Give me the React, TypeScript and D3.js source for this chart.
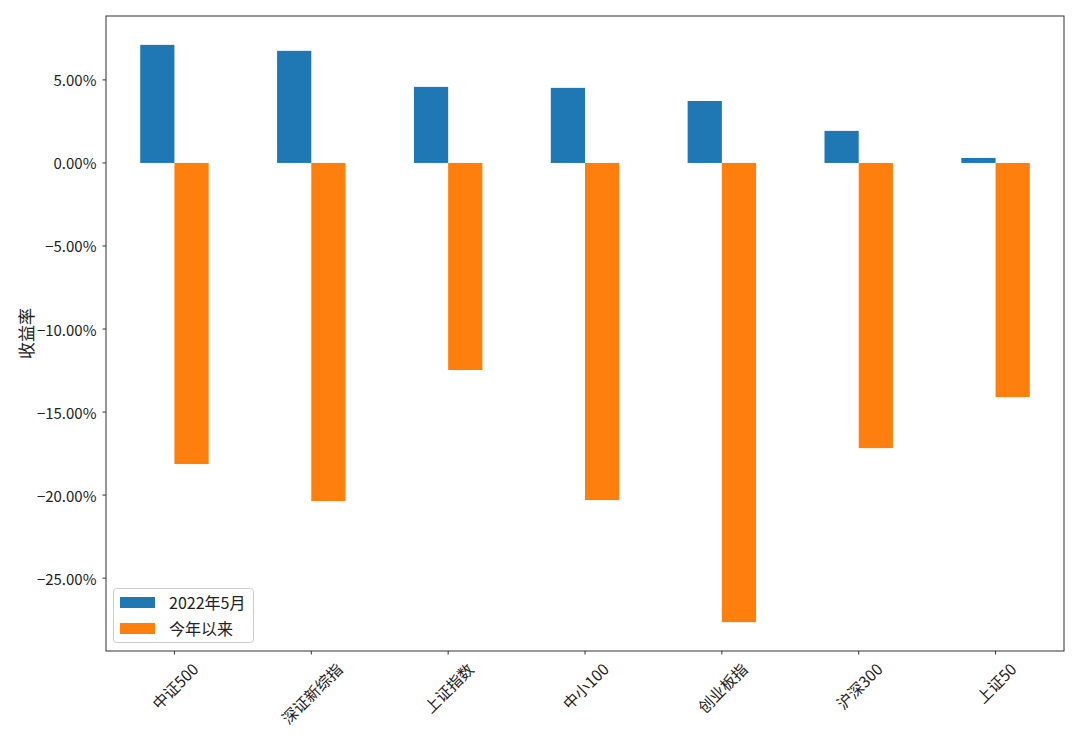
import React, { useEffect, useRef } from "react";
import * as d3 from "d3";

const categories = ["中证500", "深证新综指", "上证指数", "中小100", "创业板指", "沪深300", "上证50"];
const may2022 = [7.11, 6.75, 4.58, 4.52, 3.73, 1.93, 0.3];
const ytd = [-18.13, -20.36, -12.47, -20.3, -27.65, -17.17, -14.1];
const seriesNames = ["2022年5月", "今年以来"];
const yTicks = [5, 0, -5, -10, -15, -20, -25];

const W = 1080, H = 748;
const M = { left: 106, top: 16, right: 1064, bottom: 651 };
const FONT = "'Noto Sans CJK SC', 'DejaVu Sans', sans-serif";
const COLORS = ["#1f77b4", "#ff7f0e"];

export default function App() {
  const ref = useRef<SVGSVGElement>(null);
  useEffect(() => {
    const svg = d3.select(ref.current);
    svg.selectAll("*").remove();
    const x = d3.scaleLinear().domain([-0.5, categories.length - 0.5]).range([M.left, M.right]);
    const all = [...may2022, ...ytd];
    const lo = d3.min(all)!, hi = d3.max(all)!;
    const pad = (hi - lo) * 0.05;
    const y = d3.scaleLinear().domain([lo - pad, hi + pad]).range([M.bottom, M.top]);
    const bw = 0.25;

    const series = [may2022, ytd];
    series.forEach((vals, si) => {
      svg.append("g").selectAll("rect").data(vals).join("rect")
        .attr("x", (_, i) => x(i - bw + si * bw))
        .attr("width", x(bw) - x(0))
        .attr("y", d => y(Math.max(0, d)))
        .attr("height", d => Math.abs(y(d) - y(0)))
        .attr("fill", COLORS[si]);
    });

    // frame
    svg.append("rect").attr("x", M.left).attr("y", M.top)
      .attr("width", M.right - M.left).attr("height", M.bottom - M.top)
      .attr("fill", "none").attr("stroke", "#333").attr("stroke-width", 1);

    // y ticks
    const gy = svg.append("g");
    yTicks.forEach(t => {
      const yy = y(t);
      gy.append("line").attr("x1", M.left - 3.5).attr("x2", M.left).attr("y1", yy).attr("y2", yy)
        .attr("stroke", "#333").attr("stroke-width", 1);
      gy.append("text").attr("x", M.left - 9.5).attr("y", yy).attr("text-anchor", "end")
        .attr("dominant-baseline", "central").attr("font-family", FONT).attr("font-size", 15)
        .attr("fill", "#222").text((t < 0 ? "−" : "") + Math.abs(t).toFixed(2) + "%");
    });

    // x ticks
    const gx = svg.append("g");
    categories.forEach((c, i) => {
      const xx = x(i);
      gx.append("line").attr("x1", xx).attr("x2", xx).attr("y1", M.bottom).attr("y2", M.bottom + 3.5)
        .attr("stroke", "#333").attr("stroke-width", 1);
      const t = gx.append("text").attr("font-family", FONT).attr("font-size", 15.5)
        .attr("fill", "#222").attr("text-anchor", "middle").attr("dominant-baseline", "central").text(c);
      const w = (t.node() as SVGTextElement).getComputedTextLength();
      const h = 15.5;
      const bb = (w + h) / Math.SQRT2;
      t.attr("transform", `translate(${xx},${M.bottom + 9 + bb / 2}) rotate(-45)`);
    });

    // y label
    svg.append("text").attr("transform", `translate(25,${(M.top + M.bottom) / 2}) rotate(-90)`)
      .attr("text-anchor", "middle").attr("dominant-baseline", "central")
      .attr("font-family", FONT).attr("font-size", 17).attr("fill", "#222").text("收益率");

    // legend
    const lg = svg.append("g");
    lg.append("rect").attr("x", 113.5).attr("y", 588.5).attr("width", 140).attr("height", 54)
      .attr("rx", 3).attr("fill", "white").attr("fill-opacity", 0.8).attr("stroke", "#ccc");
    seriesNames.forEach((n, i) => {
      const yy = 602 + i * 26;
      lg.append("rect").attr("x", 120).attr("y", yy - 5).attr("width", 35).attr("height", 11).attr("fill", COLORS[i]);
      lg.append("text").attr("x", 169).attr("y", yy).attr("dominant-baseline", "central")
        .attr("font-family", FONT).attr("font-size", 16).attr("fill", "#222").text(n);
    });
  }, []);
  return <svg ref={ref} width={W} height={H} style={{ display: "block", margin: -8 }} />;
}
